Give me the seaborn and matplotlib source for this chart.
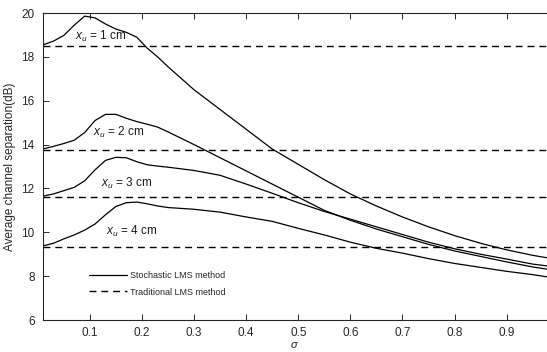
import numpy as np
import pandas as pd
import seaborn as sns
import matplotlib
matplotlib.use('Agg')
import matplotlib.pyplot as plt

# sigma grid
sigma = [0.01, 0.03, 0.05, 0.07, 0.09, 0.11, 0.13, 0.15, 0.17, 0.19, 0.21, 0.23,
         0.25, 0.30, 0.35, 0.40, 0.45, 0.50, 0.55, 0.60, 0.65, 0.70, 0.75, 0.80,
         0.85, 0.90, 0.95, 0.977]

# stochastic LMS curves, x_u = 1..4 cm
stoch_1cm = [18.55, 18.72, 18.98, 19.45, 19.86, 19.78, 19.5, 19.27, 19.12, 18.9, 18.4, 18.0,
             17.55, 16.5, 15.6, 14.7, 13.8, 13.1, 12.4, 11.75, 11.2, 10.7, 10.25, 9.85,
             9.5, 9.2, 8.95, 8.84]
stoch_2cm = [13.8, 13.92, 14.05, 14.2, 14.55, 15.1, 15.38, 15.38, 15.2, 15.05, 14.93, 14.8,
             14.58, 14.0, 13.4, 12.8, 12.2, 11.6, 11.0, 10.55, 10.15, 9.8, 9.45, 9.15,
             8.9, 8.65, 8.42, 8.32]
stoch_3cm = [11.65, 11.75, 11.9, 12.05, 12.35, 12.85, 13.28, 13.42, 13.4, 13.22, 13.08, 13.02,
             12.97, 12.82, 12.6, 12.2, 11.78, 11.35, 10.95, 10.6, 10.25, 9.9, 9.55, 9.25,
             9.0, 8.78, 8.55, 8.47]
stoch_4cm = [9.38, 9.5, 9.7, 9.88, 10.1, 10.38, 10.8, 11.18, 11.35, 11.38, 11.3, 11.2,
             11.13, 11.05, 10.92, 10.7, 10.5, 10.18, 9.88, 9.55, 9.27, 9.05, 8.8, 8.58,
             8.4, 8.22, 8.07, 7.97]

# traditional LMS (constant)
traditional = [18.5, 13.75, 11.61, 9.35]

labels = ['$x_u$ = 1 cm', '$x_u$ = 2 cm', '$x_u$ = 3 cm', '$x_u$ = 4 cm']
label_pos = [(0.072, 18.95), (0.106, 14.57), (0.122, 12.23), (0.131, 10.05)]

sns.set_theme(style='ticks')
plt.rcParams['font.family'] = ['Liberation Sans', 'DejaVu Sans']
plt.rcParams['mathtext.fontset'] = 'custom'
plt.rcParams['mathtext.it'] = 'Liberation Sans:italic'
plt.rcParams['mathtext.rm'] = 'Liberation Sans'

fig = plt.figure(figsize=(5.47, 3.52), dpi=100)
ax = fig.add_axes([0.0786, 0.0909, 0.9214, 0.872])

curves = [stoch_1cm, stoch_2cm, stoch_3cm, stoch_4cm]
for i, c in enumerate(curves):
    sns.lineplot(x=sigma, y=c, color='black', lw=0.9, ax=ax, estimator=None,
                 label='Stochastic LMS method' if i == 0 else None)
for i, t in enumerate(traditional):
    ax.axhline(t, color='black', lw=1.0, ls=(0, (5, 3.5)),
               label='Traditional LMS method' if i == 0 else None)

for lab, (px, py) in zip(labels, label_pos):
    ax.text(px, py, lab, fontsize=8.5, va='center', ha='left', color='#1a1a1a')

ax.set_xlim(0.01, 0.9775)
ax.set_ylim(6, 20)
ax.set_xticks([0.1, 0.2, 0.3, 0.4, 0.5, 0.6, 0.7, 0.8, 0.9])
ax.set_xticklabels(['0.1', '0.2', '0.3', '0.4', '0.5', '0.6', '0.7', '0.8', '0.9'])
ax.set_yticks([6, 8, 10, 12, 14, 16, 18, 20])
ax.tick_params(direction='in', length=4, width=0.7, labelsize=8.5, colors='#262626',
               top=True, right=False, pad=6)
ax.tick_params(axis='x', pad=5)
for s in ['left', 'bottom', 'top']:
    ax.spines[s].set_linewidth(0.8)
    ax.spines[s].set_color('#262626')
ax.spines['right'].set_visible(False)

ax.set_ylabel('Average channel separation(dB)', fontsize=8.5, color='#262626', labelpad=4)
ax.set_xlabel(r'$\sigma$', fontsize=8, color='#262626', labelpad=1)

ax.legend(loc='upper left', bbox_to_anchor=(0.085, 0.17), frameon=False, fontsize=6.5,
          handlelength=4.2, borderaxespad=0, labelspacing=0.8, handletextpad=0.3)

fig.savefig('out.png', dpi=100)
